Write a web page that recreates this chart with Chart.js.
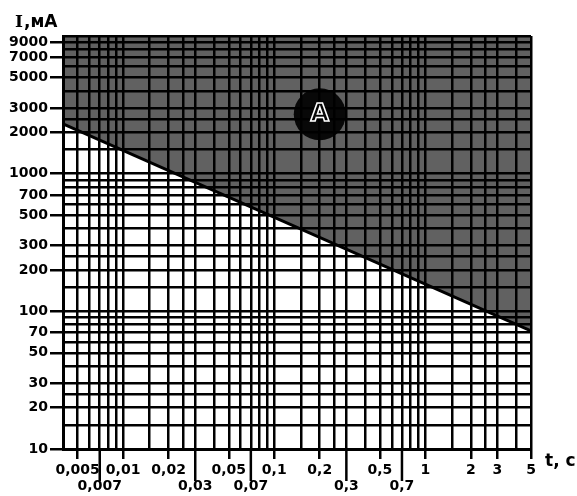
<!DOCTYPE html>
<html>
<head>
<meta charset="utf-8">
<script src="https://cdn.jsdelivr.net/npm/chart.js@4.4.1/dist/chart.umd.min.js"></script>
<style>
  html, body { margin: 0; padding: 0; background: #fff; }
  #wrap { width: 577px; height: 496px; }
</style>
</head>
<body>
<div id="wrap"><canvas id="chart"></canvas></div>
<script>
// time, s (log axis)
const gridX = [0.004, 0.005, 0.006, 0.007, 0.008, 0.009,
  0.01, 0.015, 0.02, 0.025, 0.03, 0.04, 0.05, 0.06, 0.07, 0.08, 0.09,
  0.1, 0.15, 0.2, 0.25, 0.3, 0.4, 0.5, 0.6, 0.7, 0.8, 0.9,
  1, 1.5, 2, 2.5, 3, 4, 5];
const xLabelsTop = [0.005, 0.01, 0.02, 0.05, 0.1, 0.2, 0.5, 1, 2, 3, 5];
const xLabelsLow = [0.007, 0.03, 0.07, 0.3, 0.7];

// current, mA (log axis)
const gridY = [10, 15, 20, 25, 30, 40, 50, 60, 70, 80, 90,
  100, 150, 200, 250, 300, 400, 500, 600, 700, 800, 900,
  1000, 1500, 2000, 2500, 3000, 4000, 5000, 6000, 7000, 8000, 9000, 10000];
const yLabels = [10, 20, 30, 50, 70, 100, 200, 300, 500, 700,
  1000, 2000, 3000, 5000, 7000, 9000];

// boundary of zone A
const boundaryT = [0.004, 5];
const boundaryI = [2300, 72];

// zone label
const zoneLabel = "A";
const zoneT = 0.2;
const zoneI = 2700;

const fmt = v => String(v).replace(".", ",");

Chart.defaults.font.family = "'DejaVu Sans', sans-serif";
Chart.defaults.font.weight = "bold";
Chart.defaults.color = "#000";

const extras = {
  id: "extras",
  afterDatasetsDraw(chart) {
    const { ctx, scales: { x, y }, chartArea } = chart;
    ctx.save();
    // longer ticks for the second label row
    ctx.strokeStyle = "#000";
    ctx.lineWidth = 2.5;
    xLabelsLow.forEach(v => {
      const px = x.getPixelForValue(v);
      ctx.beginPath();
      ctx.moveTo(px, chartArea.bottom);
      ctx.lineTo(px, chartArea.bottom + 32);
      ctx.stroke();
    });
    // zone letter
    ctx.font = "bold 24px 'DejaVu Sans'";
    ctx.textAlign = "center";
    ctx.textBaseline = "middle";
    ctx.strokeStyle = "#fff";
    ctx.lineWidth = 1.5;
    ctx.strokeText(zoneLabel, x.getPixelForValue(zoneT), y.getPixelForValue(zoneI));
    // axis titles
    ctx.fillStyle = "#000";
    ctx.textAlign = "left";
    ctx.textBaseline = "alphabetic";
    ctx.font = "bold 17px 'DejaVu Serif'";
    ctx.fillText("I", 15, 27);
    ctx.font = "bold 17px 'DejaVu Sans'";
    ctx.fillText(",мА", 24, 27);
    ctx.fillText("t, c", 545, 466);
    ctx.restore();
  }
};

new Chart(document.getElementById("chart"), {
  type: "line",
  data: {
    datasets: [
      {
        data: boundaryT.map((t, i) => ({ x: t, y: boundaryI[i] })),
        borderColor: "#000",
        borderWidth: 3,
        backgroundColor: "rgba(0,0,0,0.62)",
        fill: "end",
        pointRadius: 0
      },
      {
        type: "scatter",
        data: [{ x: zoneT, y: zoneI }],
        pointRadius: 26,
        backgroundColor: "rgba(0,0,0,0.92)",
        borderWidth: 0
      }
    ]
  },
  options: {
    responsive: true,
    maintainAspectRatio: false,
    animation: false,
    layout: { padding: { top: 36, right: 46, left: 0, bottom: 0 } },
    plugins: { legend: { display: false }, tooltip: { enabled: false } },
    scales: {
      x: {
        type: "logarithmic",
        min: 0.004,
        max: 5,
        afterBuildTicks: s => { s.ticks = gridX.map(v => ({ value: v })); },
        afterFit: s => { s.height = 47; },
        border: { display: true, color: "#000", width: 3 },
        grid: {
          color: "#000",
          lineWidth: 2.5,
          tickLength: 10,
          tickColor: c => xLabelsTop.includes(c.tick.value) ? "#000" : "rgba(0,0,0,0)"
        },
        ticks: {
          autoSkip: false,
          maxRotation: 0,
          padding: 3,
          font: { size: 14, weight: "bold", lineHeight: 1.15 },
          callback: v => xLabelsTop.includes(v) ? fmt(v)
            : xLabelsLow.includes(v) ? ["", fmt(v)] : ""
        }
      },
      y: {
        type: "logarithmic",
        min: 10,
        max: 10000,
        afterBuildTicks: s => { s.ticks = gridY.map(v => ({ value: v })); },
        afterFit: s => { s.width = 63; },
        border: { display: true, color: "#000", width: 3 },
        grid: {
          color: "#000",
          lineWidth: 2.5,
          tickLength: 13,
          tickColor: c => yLabels.includes(c.tick.value) ? "#000" : "rgba(0,0,0,0)"
        },
        ticks: {
          autoSkip: false,
          padding: 2,
          font: { size: 14, weight: "bold" },
          callback: v => yLabels.includes(v) ? String(v) : ""
        }
      }
    }
  },
  plugins: [extras]
});
</script>
</body>
</html>
